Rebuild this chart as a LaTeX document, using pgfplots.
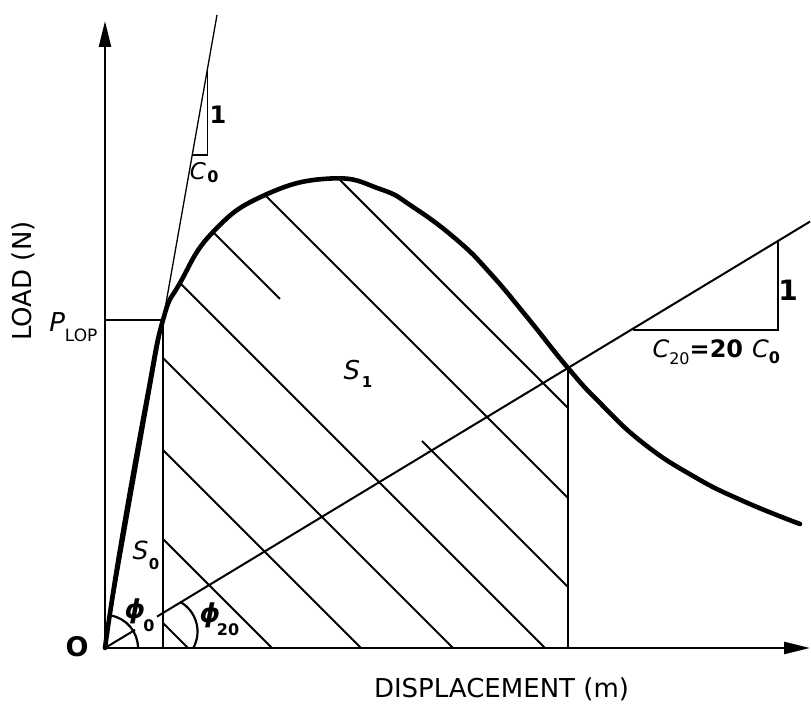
\documentclass[border=0pt]{standalone}
\usepackage{pgfplots}
\pgfplotsset{compat=1.18}
\usetikzlibrary{arrows.meta}
\usepackage{fontspec}
\setmainfont{DejaVu Sans}
\newcommand{\fs}[1]{\fontsize{#1}{#1}\selectfont}

\begin{document}
\begin{tikzpicture}
\begin{axis}[
  x=1pt, y=1pt,
  xmin=0, xmax=705, ymin=0, ymax=627,
  axis lines*=left,
  axis line style={line width=2.4pt, -{Triangle[length=26pt,width=12pt]}},
  xtick=\empty, ytick=\empty,
  clip=false,
  every axis plot/.append style={black, no markers},
  every node/.append style={inner sep=0pt},
]
% load-displacement curve
\addplot[line width=4.6pt, smooth, tension=0.8, line cap=round] coordinates {
  (0,0) (15,98) (41.7,248) (58,328) (75,365) (108,416)
  (160,453) (226,469.5) (275,459) (308,441)
  (352,408) (385,375) (422,331) (463,280) (495,245) (538,205) (588,172)
  (638,147) (695,124)
};
% initial tangent (C0) and its triangle
\addplot[line width=1.3pt] coordinates {(0,0) (112,633)};
\addplot[line width=1.6pt] coordinates {(102.6,580) (102.6,493) (87.2,493)};
% secant C20 (broken at phi0) and its triangle
\addplot[line width=2pt] coordinates {(0,0) (30,18.1)};
\addplot[line width=2pt] coordinates {(52,31.4) (705,426.4)};
\addplot[line width=1.8pt] coordinates {(528,318) (673,318) (673,407)};
% P_LOP and limits of S1
\addplot[line width=1.8pt] coordinates {(0,328) (58,328)};
\addplot[line width=1.6pt] coordinates {(58,0) (58,328)};
\addplot[line width=1.6pt] coordinates {(463,0) (463,280)};
% hatching
\addplot[line width=2pt] coordinates {(75,365) (440,0)};
\addplot[line width=2pt] coordinates {(108,416) (175,349)};
\addplot[line width=2pt] coordinates {(317,207) (463,61)};
\addplot[line width=2pt] coordinates {(160,453) (463,150)};
\addplot[line width=2pt] coordinates {(235,468) (463,240)};
\addplot[line width=2pt] coordinates {(58,290) (348,0)};
\addplot[line width=2pt] coordinates {(58,198) (256,0)};
\addplot[line width=2pt] coordinates {(58,109) (167,0)};
\addplot[line width=2pt] coordinates {(58,25) (83,0)};
% angle arcs
\draw[line width=2.2pt] (axis cs:33,0) arc[start angle=0, end angle=80, radius=33pt];
\draw[line width=2.2pt] (axis cs:75,46.2) arc[start angle=61, end angle=-29, radius=34pt];
% texts
\node[anchor=base, font=\fs{26}] at (axis cs:396.5,-50) {DISPLACEMENT (m)};
\node[anchor=base, rotate=90, font=\fs{26}] at (axis cs:-73.5,367) {LOAD (N)};
\node[font=\fs{27}\bfseries] at (axis cs:-28,1) {O};
\node[anchor=base east, font=\fs{26}] at (axis cs:-4,316) {\textit{P}\raisebox{-10pt}{\fs{17}LOP}};
\node[anchor=base west, font=\fs{25}\itshape] at (axis cs:24,88) {S};
\node[font=\fs{15}\bfseries] at (axis cs:49,84) {0};
\node[font=\fs{26}\bfseries\itshape] at (axis cs:30,37) {ϕ};
\node[font=\fs{16}\bfseries] at (axis cs:44,22) {0};
\node[font=\fs{26}\bfseries\itshape] at (axis cs:105,33) {ϕ};
\node[font=\fs{16}\bfseries] at (axis cs:123,18) {20};
\node[font=\fs{26}\itshape] at (axis cs:247,278) {S};
\node[font=\fs{15}\bfseries] at (axis cs:262,266) {1};
\node[font=\fs{23}\itshape] at (axis cs:93,477) {C};
\node[font=\fs{16}\bfseries] at (axis cs:108,471) {0};
\node[font=\fs{24}\bfseries] at (axis cs:113,533) {1};
\node[font=\fs{28}\bfseries] at (axis cs:683,358) {1};
\node[anchor=base west, font=\fs{24}] at (axis cs:544,290)
  {\textit{C}\raisebox{-7pt}{\fs{16}20}\textbf{=20}\hspace{9pt}\textit{C}\raisebox{-6pt}{\fs{16}\bfseries 0}};
\coordinate (bl) at (axis cs:-105,-79);
\coordinate (tr) at (axis cs:706,648);
\end{axis}
\pgfresetboundingbox
\path (bl) rectangle (tr);
\end{tikzpicture}
\end{document}
